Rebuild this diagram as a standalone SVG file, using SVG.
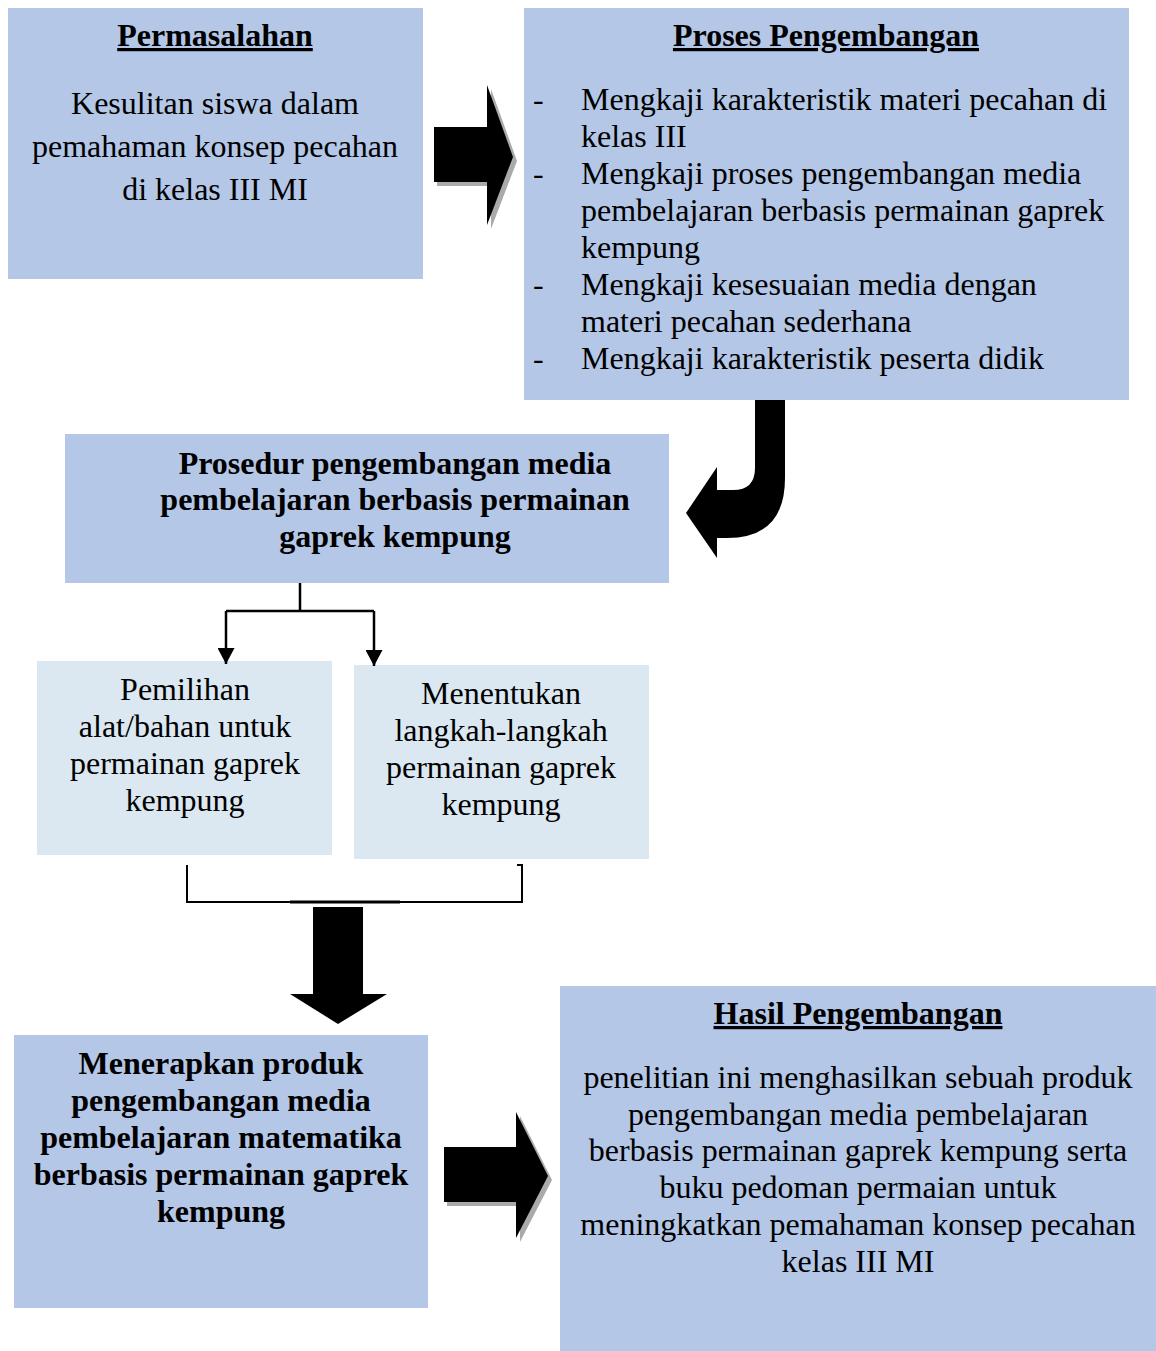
<svg xmlns="http://www.w3.org/2000/svg" width="1156" height="1351" viewBox="0 0 1156 1351">
<defs>
<style>
.t{font-family:"Liberation Serif","Times New Roman",serif;font-size:32px;fill:#000}
.b{font-weight:bold}
.c{text-anchor:middle}
.u{text-decoration:underline}
.blue{fill:#B4C7E7}
.light{fill:#DBE8F1}
.ln{fill:none;stroke:#000;stroke-width:2.5}
.sh{fill:#AAAAAA}
</style>
<marker id="ah" viewBox="0 0 10 10" refX="10" refY="5" markerWidth="16" markerHeight="17" markerUnits="userSpaceOnUse" orient="auto" preserveAspectRatio="none">
<path d="M0,0 L10,5 L0,10 Z" fill="#000"/>
</marker>
</defs>
<rect width="1156" height="1351" fill="#fff"/>

<g id="permasalahan">
<rect class="blue" x="8" y="8" width="415" height="271"/>
<text class="t b c u" x="215" y="46">Permasalahan</text>
<text class="t c" x="215" y="114">Kesulitan siswa dalam</text>
<text class="t c" x="215" y="157">pemahaman konsep pecahan</text>
<text class="t c" x="215" y="200">di kelas III MI</text>
</g>

<g id="proses">
<rect class="blue" x="524" y="8" width="605" height="392"/>
<text class="t b c u" x="826" y="46">Proses Pengembangan</text>
<text class="t" x="533" y="110">-</text>
<text class="t" x="581" y="110">Mengkaji karakteristik materi pecahan di</text>
<text class="t" x="581" y="147">kelas III</text>
<text class="t" x="533" y="184">-</text>
<text class="t" x="581" y="184">Mengkaji proses pengembangan media</text>
<text class="t" x="581" y="221">pembelajaran berbasis permainan gaprek</text>
<text class="t" x="581" y="258">kempung</text>
<text class="t" x="533" y="295">-</text>
<text class="t" x="581" y="295">Mengkaji kesesuaian media dengan</text>
<text class="t" x="581" y="332">materi pecahan sederhana</text>
<text class="t" x="533" y="369">-</text>
<text class="t" x="581" y="369">Mengkaji karakteristik peserta didik</text>
</g>

<g id="prosedur">
<rect class="blue" x="65" y="434" width="604" height="149"/>
<text class="t b c" x="395" y="474">Prosedur pengembangan media</text>
<text class="t b c" x="395" y="510">pembelajaran berbasis permainan</text>
<text class="t b c" x="395" y="547">gaprek kempung</text>
</g>

<g id="pemilihan">
<rect class="light" x="37" y="661" width="295" height="194"/>
<text class="t c" x="185" y="700">Pemilihan</text>
<text class="t c" x="185" y="737">alat/bahan untuk</text>
<text class="t c" x="185" y="774">permainan gaprek</text>
<text class="t c" x="185" y="811">kempung</text>
</g>

<g id="menentukan">
<rect class="light" x="354" y="665" width="295" height="194"/>
<text class="t c" x="501" y="704">Menentukan</text>
<text class="t c" x="501" y="741">langkah-langkah</text>
<text class="t c" x="501" y="778">permainan gaprek</text>
<text class="t c" x="501" y="815">kempung</text>
</g>

<g id="menerapkan">
<rect class="blue" x="14" y="1035" width="414" height="273"/>
<text class="t b c" x="221" y="1074">Menerapkan produk</text>
<text class="t b c" x="221" y="1111">pengembangan media</text>
<text class="t b c" x="221" y="1148">pembelajaran matematika</text>
<text class="t b c" x="221" y="1185">berbasis permainan gaprek</text>
<text class="t b c" x="221" y="1222">kempung</text>
</g>

<g id="hasil">
<rect class="blue" x="560" y="986" width="596" height="365"/>
<text class="t b c u" x="858" y="1024">Hasil Pengembangan</text>
<text class="t c" x="858" y="1088">penelitian ini menghasilkan sebuah produk</text>
<text class="t c" x="858" y="1125">pengembangan media pembelajaran</text>
<text class="t c" x="858" y="1161">berbasis permainan gaprek kempung serta</text>
<text class="t c" x="858" y="1198">buku pedoman permaian untuk</text>
<text class="t c" x="858" y="1235">meningkatkan pemahaman konsep pecahan</text>
<text class="t c" x="858" y="1272">kelas III MI</text>
</g>

<g id="connectors">
<path class="sh" d="M437,131 L491,131 L491,89 L517,161 L491,229 L491,186 L437,186 Z"/>
<path d="M434,127 L487,127 L487,85 L513,157 L487,225 L487,182 L434,182 Z" fill="#000"/>
<path d="M755,400 L785,400 L785,478 Q785,538 727,538 L717,538 L717,558 L686,513 L717,467 L717,490 L733,490 Q755,490 755,468 Z" fill="#000"/>
<path class="ln" d="M300,583 L300,611 M226,611 L374,611"/>
<path class="ln" d="M226,611 L226,664" marker-end="url(#ah)"/>
<path class="ln" d="M374,611 L374,666" marker-end="url(#ah)"/>
<path d="M187,865 L187,902 L522,902 L522,865 L517,865" fill="none" stroke="#000" stroke-width="2"/>
<line x1="290" y1="902" x2="400" y2="902" stroke="#000" stroke-width="3"/>
<path d="M313,907 L363,907 L363,994 L387,994 L338,1024 L290,994 L313,994 Z" fill="#000"/>
<path class="sh" d="M447,1151 L520,1151 L520,1116 L552,1180 L520,1242 L520,1206 L447,1206 Z"/>
<path d="M444,1147 L516,1147 L516,1112 L548,1176 L516,1238 L516,1202 L444,1202 Z" fill="#000"/>
</g>
</svg>
